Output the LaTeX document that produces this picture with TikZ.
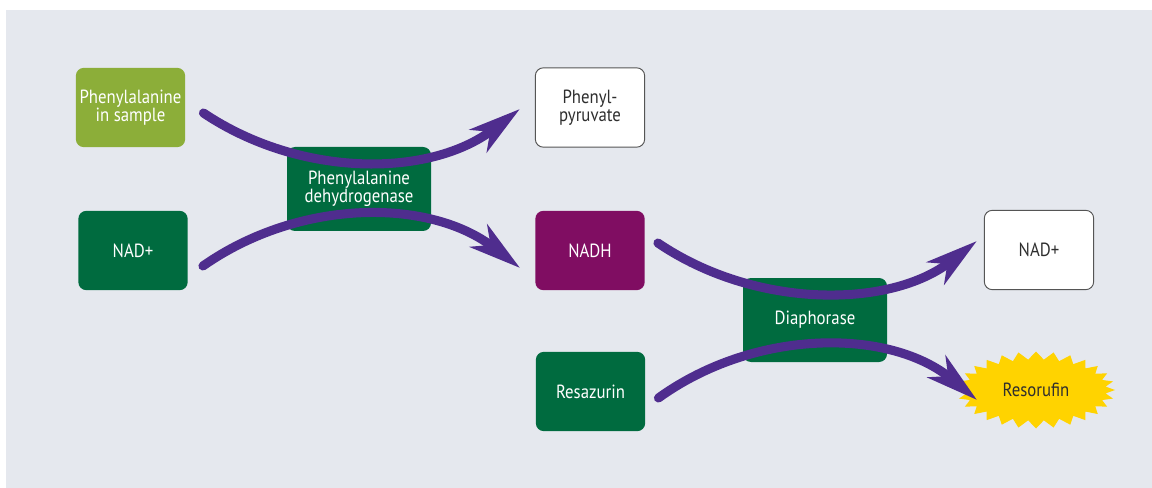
\documentclass[tikz,border=0pt]{standalone}
\usepackage{fontspec}
\setmainfont[FakeStretch=0.88]{PT Sans}
\usetikzlibrary{arrows.meta,calc}

\definecolor{panel}{HTML}{E5E8EE}
\definecolor{olive}{HTML}{8CAE39}
\definecolor{dkgreen}{HTML}{006B3F}
\definecolor{nadhpurple}{HTML}{800D62}
\definecolor{flowpurple}{HTML}{4F2D8E}
\definecolor{sun}{HTML}{FFD300}
\definecolor{ink}{HTML}{2E2E2E}
\definecolor{frame}{HTML}{555555}

\newcommand{\boxfont}{\fontsize{14.3}{13.8}\selectfont}

\tikzset{
  box/.style={rounded corners=6pt, minimum width=82pt, minimum height=59.5pt,
    inner sep=0pt, align=center, font=\boxfont},
  samplebox/.style={box, fill=olive, text=white},
  greenbox/.style={box, fill=dkgreen, text=white},
  nadhbox/.style={box, fill=nadhpurple, text=white},
  plainbox/.style={box, fill=white, draw=frame, line width=0.7pt, text=ink},
  enzyme/.style={box, fill=dkgreen, text=white, minimum width=108pt, minimum height=63pt},
  product/.style={inner sep=0pt, font=\boxfont, text=ink},
  flow/.style={draw=flowpurple, line width=6.8pt, line cap=round,
    -{Stealth[length=39pt,width=21pt,inset=11pt]}},
}

\begin{document}
\begin{tikzpicture}[x=0.75pt,y=-0.75pt]
  \useasboundingbox (0,0) rectangle (1152,488);
  \fill[panel] (6,10) rectangle (1152,488);

  % substrates, products and enzymes
  \node[samplebox] (pis)  at (130.5,107.5) {Phenylalanine\\in sample};
  \node[greenbox]  (nadL) at (133,250.5)   {NAD+};
  \node[enzyme]    (pdh)  at (359,189)     {Phenylalanine\\dehydrogenase};
  \node[plainbox]  (ppy)  at (590,107.5)   {Phenyl-\\pyruvate};
  \node[nadhbox]   (nadh) at (590,250.5)   {NADH};
  \node[enzyme]    (dia)  at (815,320)     {Diaphorase};
  \node[plainbox]  (nadR) at (1039,250)    {NAD+};
  \node[greenbox]  (res)  at (590.5,391.5) {Resazurin};

  % fluorescent product in a starburst (28 spikes, 56 corners)
  \fill[sun] (1115,390) \foreach \i in {1,...,55} {
      -- ({1036+(79-9*mod(\i,2))*cos(\i*45/7)},{390+(38.5-8*mod(\i,2))*sin(\i*45/7)})
    } -- cycle;
  \node[product] (rsf) at (1036,390) {Resorufin};

  % reaction arrows
  \draw[flow] ($(pis.east)+(18,5.5)$)   .. controls +(97,65)  and +(-90,69)  .. ($(ppy.west)+(-15,1.5)$);
  \draw[flow] ($(nadL.east)+(15,15.5)$) .. controls +(97,-68) and +(-90,-70) .. ($(nadh.west)+(-15,17.5)$);
  \draw[flow] ($(nadh.east)+(13,-7.5)$) .. controls +(97,66)  and +(-87,68)  .. ($(nadR.west)+(-7,-9)$);
  \draw[flow] ($(res.east)+(13,6.5)$)   .. controls +(97,-70) and +(-87,-72) .. ($(rsf.center)+(-59,10)$);
\end{tikzpicture}
\end{document}
